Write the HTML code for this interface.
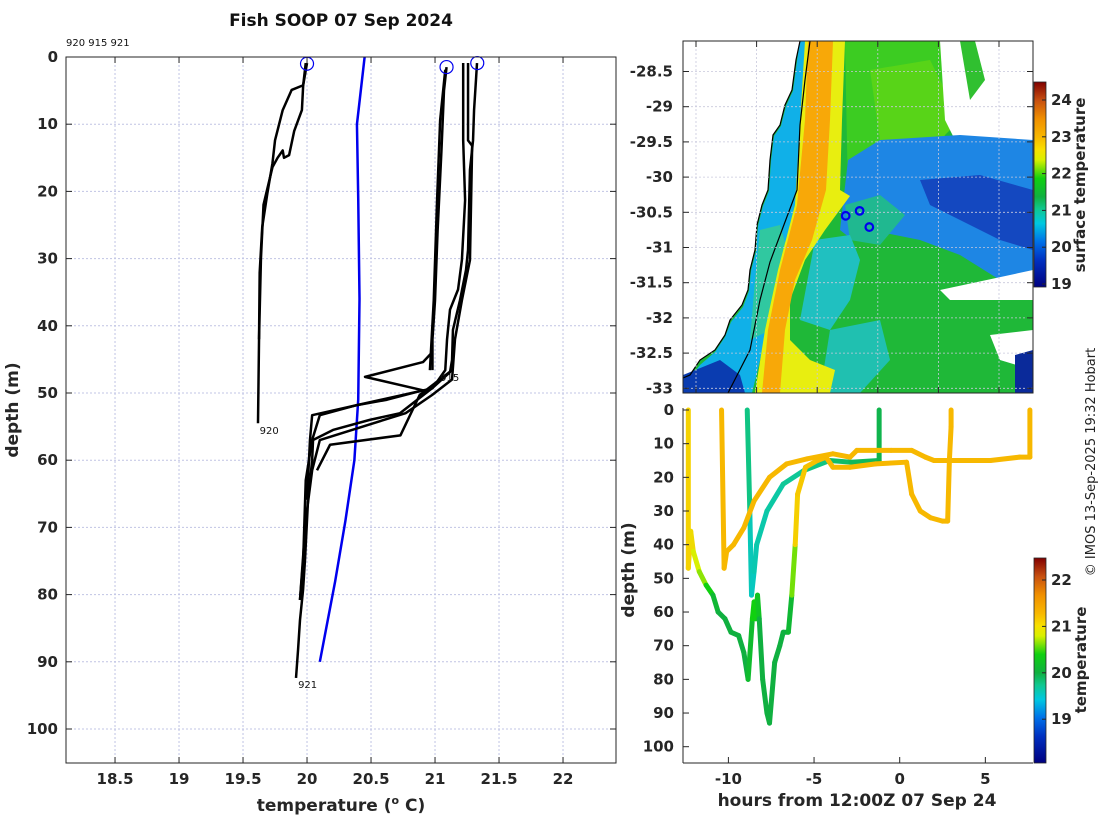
<!DOCTYPE html>
<html><head><meta charset="utf-8"><style>
html,body{margin:0;padding:0;background:#fff;}
svg{display:block;font-family:"DejaVu Sans","Liberation Sans",sans-serif;}
.tk{font-size:15px;font-weight:bold;fill:#262626;}
</style></head><body>
<svg id="s" width="1100" height="820" viewBox="0 0 1100 820">
<defs>
<clipPath id="cl"><rect x="66" y="57" width="550" height="706"/></clipPath>
<clipPath id="cm"><rect x="683" y="41" width="350" height="352"/></clipPath>
<clipPath id="cb"><rect x="683" y="405" width="350" height="358"/></clipPath>
<linearGradient id="jet" x1="0" y1="1" x2="0" y2="0">
<stop offset="0" stop-color="#000080"/><stop offset="0.13" stop-color="#0030c0"/><stop offset="0.22" stop-color="#0070e8"/><stop offset="0.31" stop-color="#00c8e0"/><stop offset="0.38" stop-color="#10c890"/><stop offset="0.44" stop-color="#10b040"/><stop offset="0.53" stop-color="#10d010"/><stop offset="0.62" stop-color="#d8f000"/><stop offset="0.67" stop-color="#f8e000"/><stop offset="0.73" stop-color="#f8b800"/><stop offset="0.82" stop-color="#f09000"/><stop offset="0.91" stop-color="#c85010"/><stop offset="1" stop-color="#800000"/>
</linearGradient>
</defs>
<text x="341" y="26" text-anchor="middle" font-size="17" font-weight="bold" fill="#111">Fish SOOP 07 Sep 2024</text>
<text x="66" y="46" font-size="10" fill="#111">920 915 921</text>
<g id="left"></g>
<g id="map"></g>
<g id="br"></g>
<text transform="translate(18,410) rotate(-90)" text-anchor="middle" font-size="17" font-weight="bold" fill="#262626">depth (m)</text>
<text x="341" y="811" text-anchor="middle" font-size="17" font-weight="bold" fill="#262626">temperature (<tspan font-size="11" dy="-7">o</tspan><tspan dy="7"> C)</tspan></text>
<text transform="translate(634,570) rotate(-90)" text-anchor="middle" font-size="17" font-weight="bold" fill="#262626">depth (m)</text>
<text x="857" y="806" text-anchor="middle" font-size="17" font-weight="bold" fill="#262626">hours from 12:00Z 07 Sep 24</text>
<text transform="translate(1085,185) rotate(-90)" text-anchor="middle" font-size="15" font-weight="bold" fill="#262626">surface temperature</text>
<text transform="translate(1086,660) rotate(-90)" text-anchor="middle" font-size="15" font-weight="bold" fill="#262626">temperature</text>
<text transform="translate(1095,462) rotate(-90)" text-anchor="middle" font-size="13" fill="#222">© IMOS 13-Sep-2025 19:32 Hobart</text>
</svg>
<script>
// ---- left profile plot data ----
const xTicks=[18.5,19,19.5,20,20.5,21,21.5,22];
const yTicks=[0,10,20,30,40,50,60,70,80,90,100];
const p920dT=[20.0,19.97,19.88,19.81,19.75,19.73,19.69,19.65,19.63,19.625,19.617];
const p920dD=[0.9,4.2,4.9,7.9,12.4,15.8,20.3,25.3,32.1,42.1,54.5];
const p920uT=[19.625,19.64,19.66,19.73,19.77,19.81,19.82,19.86,19.9,19.96,19.97,19.99];
const p920uD=[42,30,22,16.4,15,13.9,15,14.6,11,7.9,4.2,0.9];
const p915dT=[21.09,21.07,21.05,21.02,21.0,20.98,20.98];
const p915dD=[1.5,5,14,25.9,36.2,42,46.6];
const p915uT=[20.96,20.99,21.016,21.04,21.08];
const p915uD=[46.6,36.2,21.3,9.4,1.9];
const p915zT=[20.98,20.906,20.453,20.906,20.625,20.39,20.04,20.023,20.0];
const p915zD=[43.9,45.4,47.6,49.6,51,51.8,53.3,57,65.9];
const p921aT=[21.328,21.32,21.305,21.297,21.273,21.258,21.242,21.195,21.14,21.133,21.117,20.977,20.727,20.49,20.203,20.047,20.04,20.008,19.984,19.969,19.945,19.93,19.914];
const p921aD=[0.9,3.4,7.9,12.4,16.8,28.7,31.7,36.2,40.6,45.1,46.9,49.3,53,54,55.5,57,60,65.9,74.9,79.3,83.8,88.2,92.4];
const p921bT=[21.22,21.22,21.235,21.21,21.18,21.117,21.094,21.08,20.98,20.39,20.1,20.04,19.99,19.97,19.945];
const p921bD=[0.9,12.4,21.3,30.2,34.6,37.6,42,46.6,49.3,51.8,53.3,57,63,74.9,80.8];
const p921cT=[21.258,21.258,21.29,21.273,21.21,21.156,21.133,20.977,20.77,20.1,20.04,19.99,19.945];
const p921cD=[0.9,12.4,13.2,30.2,36.2,42,48,50.3,53,57,61.5,68.9,80.8];
const p921dT=[21.133,20.88,20.73,20.18,20.078];
const p921dD=[46.6,50.3,56.3,57.7,61.5];
const climT=[20.45,20.39,20.4,20.41,20.4,20.37,20.3,20.22,20.1];
const climD=[0,10,21,36,51,60,69,78,90];
const markT=[20.0,21.09,21.33];
const markD=[1,1.5,0.9];
const labelT=[19.63,21.04,19.93];
const labelD=[55.5,47.6,93.3];
const labelTxt=["920","915","921"];
// ---- map data ----
const latTicks=[-28.5,-29,-29.5,-30,-30.5,-31,-31.5,-32,-32.5,-33];
const lonTicks=[152,153,154,155,156,157];
const sstTicks=[19,20,21,22,23,24];
const fishLon=[154.47,154.7,154.86];
const fishLat=[-30.55,-30.48,-30.71];
// ---- bottom-right data ----
const hTicks=[-10,-5,0,5];
const dTicks=[0,10,20,30,40,50,60,70,80,90,100];
const cTicks=[19,20,21,22];
const aH=[-12.34,-12.34,-12.2,-12.05,-11.7,-11.3,-10.9,-10.6,-10.2,-9.85,-9.4,-9.1,-8.85,-8.6,-8.5,-8.4,-8.3,-8.2,-8.0,-7.75,-7.6,-7.3,-7.0,-6.8,-6.5,-6.3,-6.1,-5.96,-5.5,-4.8,-4.3,-3.9,-2.9,-1.4,0.4,0.7,1.2,1.8,2.5,2.8,2.9,3.0,3.0];
const aD=[0,47,36,42,48,52,55,60,62,66,67,72,80,62,57,62,55,62,80,90,93,75,70,66,66,55,40,25,17,15,14,17,17,16,15.5,25,30,32,33,33,15,5,0];
const aT=[21.0,21.0,21.0,20.9,20.7,20.6,20.2,20.0,20.0,20.0,20.0,20.0,20.0,20.3,20.5,20.3,20.5,20.0,20.0,20.0,20.0,20.0,20.0,20.0,20.0,20.2,21.0,21.05,21.1,21.15,21.2,21.2,21.2,21.2,21.2,21.2,21.2,21.2,21.2,21.2,21.2,21.2,21.2];
const bH=[-10.4,-10.25,-10.1,-9.7,-9.1,-8.5,-7.6,-6.6,-5.4,-3.9,-2.9,-2.5,-0.5,0.7,1.5,2.0,3.0,5.3,7.0,7.6,7.6];
const bD=[0,47,42,40,35,27,20,16,14.5,13,14,12,12,12,14,15,15,15,14,14,0];
const bT=[21.2,21.2,21.2,21.2,21.2,21.2,21.2,21.2,21.2,21.2,21.2,21.2,21.2,21.2,21.2,21.2,21.2,21.2,21.2,21.2,21.2];
const cH=[-8.9,-8.75,-8.65,-8.5,-8.35,-7.75,-6.8,-5.6,-4.1,-2.85,-1.2,-1.2];
const cD=[0,30,55,48,40,30,22,18,15,15.5,15,0];
const cT=[19.9,19.6,19.5,19.55,19.6,19.6,19.65,19.7,19.8,19.9,19.9,20.0];

const NS="http://www.w3.org/2000/svg";
function mk(tag,attrs,parent,name){const e=document.createElementNS(NS,tag);for(const k in attrs)e.setAttribute(k,attrs[k]);


parent.appendChild(e);return e;}
// left axes
const L=document.getElementById('left');
const lx=t=>66+(t-18.117)*128, ly=d=>57+d*6.72;
mk('rect',{x:66,y:57,width:550,height:706,fill:'#fff'},L,'plot-area');
xTicks.forEach(t=>{mk('line',{x1:lx(t),x2:lx(t),y1:57,y2:763,stroke:'#c0c4e4','stroke-dasharray':'2,2','stroke-width':1},L,'x-gridline');});
yTicks.forEach(t=>{mk('line',{x1:66,x2:616,y1:ly(t),y2:ly(t),stroke:'#c0c4e4','stroke-dasharray':'2,2','stroke-width':1},L,'y-gridline');});
const gl=mk('g',{'clip-path':'url(#cl)'},L,'profiles');
function pl(T,D,col,w,name){mk('polyline',{points:T.map((t,i)=>lx(t)+','+ly(D[i])).join(' '),fill:'none',stroke:col,'stroke-width':w,'stroke-linejoin':'round'},gl,name);}
pl(climT,climD,'#0000ee',2.5,'climatology-line');
[[p920dT,p920dD,'profile-920-down'],[p920uT,p920uD,'profile-920-up'],[p915dT,p915dD,'profile-915-down'],[p915uT,p915uD,'profile-915-up'],[p915zT,p915zD,'profile-915-excursion'],[p921aT,p921aD,'profile-921-a'],[p921bT,p921bD,'profile-921-b'],[p921cT,p921cD,'profile-921-c'],[p921dT,p921dD,'profile-921-d']].forEach(a=>pl(a[0],a[1],'#000',2.5,a[2]));
markT.forEach((t,i)=>{mk('circle',{cx:lx(t),cy:ly(markD[i]),r:6.5,fill:'none',stroke:'#0000ee','stroke-width':1.2},L,'surface-marker');});
labelT.forEach((t,i)=>{const e=mk('text',{x:lx(t),y:ly(labelD[i])+4,'font-size':10,fill:'#111'},L,'profile-label');e.textContent=labelTxt[i];});
mk('rect',{x:66,y:57,width:550,height:706,fill:'none',stroke:'#262626','stroke-width':1},L,'axes-box');
xTicks.forEach(t=>{mk('line',{x1:lx(t),x2:lx(t),y1:57,y2:63,stroke:'#262626'},L,'x-tick');mk('line',{x1:lx(t),x2:lx(t),y1:763,y2:757,stroke:'#262626'},L,'x-tick');
const e=mk('text',{x:lx(t),y:784,'text-anchor':'middle',class:'tk'},L,'x-tick-label');e.textContent=t;});
yTicks.forEach(t=>{mk('line',{x1:66,x2:72,y1:ly(t),y2:ly(t),stroke:'#262626'},L,'y-tick');mk('line',{x1:616,x2:610,y1:ly(t),y2:ly(t),stroke:'#262626'},L,'y-tick');
const e=mk('text',{x:58,y:ly(t)+5,'text-anchor':'end',class:'tk'},L,'y-tick-label');e.textContent=t;});

// map
const M=document.getElementById('map');
const mx=lon=>696+(lon-152)*60.6, my=lat=>71.5+(-28.5-lat)*70.4;
const gm=mk('g',{'clip-path':'url(#cm)'},M,'sst-field');
function poly(pts,fill,name){mk('polygon',{points:pts,fill:fill},gm,name);}
poly('683,41 1033,41 1033,393 683,393','#1fb838','ocean-green');
poly('840,41 945,41 945,140 900,150 860,170 848,195 845,41','#3ccc22','north-green');
poly('870,70 930,60 960,120 930,150 880,140','#58d418','north-green-patch');
poly('940,41 1033,41 1033,140 960,150 945,120','#ffffff','cloud-ne');
poly('960,41 975,41 985,80 970,100','#30c030','cloud-speckle');
poly('848,160 880,140 960,135 1033,140 1033,290 1000,280 960,255 920,240 880,232 850,238 840,230','#1e86e4','blue-eddy');
poly('920,180 980,175 1033,190 1033,250 1000,240 960,220 930,205','#1448c0','dark-blue-core');
poly('845,205 880,195 905,215 880,245 850,240','#20b890','eddy-teal');
poly('940,290 1033,270 1033,300 980,300 950,300','#ffffff','cloud-east');
poly('990,335 1033,330 1033,370 1000,360','#ffffff','cloud-se');
poly('1015,355 1033,350 1033,393 1015,393','#0a2a9a','dark-blue-se');
poly('815,240 850,235 860,260 850,300 830,330 800,320','#20c0c0','teal-patch');
poly('830,330 880,320 890,360 860,393 820,393','#20c0b0','teal-patch-south');
poly('683,41 800,41 796,60 792,90 785,105 780,125 773,135 770,160 768,190 762,205 757,225 755,250 750,270 748,290 742,305 730,320 725,335 715,350 700,360 690,375 683,378','#ffffff','land');
poly('800,41 812,41 806,120 800,200 785,260 770,320 752,393 690,393 690,378 700,365 715,352 725,337 731,322 743,307 749,291 751,271 756,251 758,226 763,206 769,191 771,161 774,136 781,126 786,106 793,91 797,61','#10b0e8','coastal-blue');
poly('760,230 780,225 790,260 770,330 750,340 755,280','#30c8a0','coastal-teal');
poly('683,375 720,360 740,375 745,393 683,393','#0a3cb0','coastal-dark-blue');
poly('805,41 845,41 842,120 840,190 850,196 825,230 805,260 790,300 790,340 810,360 835,370 830,393 755,393 765,330 778,270 795,205','#e8ee10','eac-yellow');
poly('808,41 833,41 830,120 826,190 812,240 795,280 785,330 780,393 762,393 768,330 780,270 797,205 805,120','#f8a808','eac-orange');
mk('polyline',{points:'810,41 805,80 800,125 797,190 782,230 770,262 760,300 750,350 728,393',fill:'none',stroke:'#000','stroke-width':1.2},gm,'shelf-contour');
mk('polyline',{points:'800,41 796,60 792,90 785,105 780,125 773,135 770,160 768,190 762,205 757,225 755,250 750,270 748,290 742,305 730,320 725,335 715,350 700,360 690,375 683,378',fill:'none',stroke:'#000','stroke-width':1.2},gm,'coastline');
latTicks.forEach(t=>{mk('line',{x1:683,x2:1033,y1:my(t),y2:my(t),stroke:'#c8c8dc','stroke-dasharray':'2,2','stroke-width':0.8},gm,'lat-gridline');});
lonTicks.forEach(t=>{mk('line',{x1:mx(t),x2:mx(t),y1:41,y2:393,stroke:'#c8c8dc','stroke-dasharray':'2,2','stroke-width':0.8},gm,'lon-gridline');});
fishLon.forEach((l,i)=>{mk('circle',{cx:mx(l),cy:my(fishLat[i]),r:3.8,fill:'none',stroke:'#0000ee','stroke-width':2.2},M,'fish-location');});
mk('rect',{x:683,y:41,width:350,height:352,fill:'none',stroke:'#262626'},M,'map-box');
latTicks.forEach(t=>{mk('line',{x1:683,x2:689,y1:my(t),y2:my(t),stroke:'#262626'},M,'lat-tick');mk('line',{x1:1033,x2:1027,y1:my(t),y2:my(t),stroke:'#262626'},M,'lat-tick');
const e=mk('text',{x:673,y:my(t)+5,'text-anchor':'end',class:'tk'},M,'lat-tick-label');e.textContent=t;});
lonTicks.forEach(t=>{mk('line',{x1:mx(t),x2:mx(t),y1:393,y2:387,stroke:'#262626'},M,'lon-tick');mk('line',{x1:mx(t),x2:mx(t),y1:41,y2:47,stroke:'#262626'},M,'lon-tick');
const e=mk('text',{x:mx(t),y:421,'text-anchor':'middle',class:'tk'},M,'lon-tick-label');e.textContent=t;});
const sy=v=>100+(24-v)*36.8;
mk('rect',{x:1034,y:82,width:12,height:205,fill:'url(#jet)'},M,'sst-colorbar');
mk('rect',{x:1034,y:82,width:12,height:205,fill:'none',stroke:'#262626','stroke-width':0.8},M,'sst-colorbar-box');
sstTicks.forEach(t=>{mk('line',{x1:1046,x2:1042,y1:sy(t),y2:sy(t),stroke:'#262626'},M,'sst-tick');
const e=mk('text',{x:1051,y:sy(t)+5,class:'tk','font-size':13},M,'sst-tick-label');e.textContent=t;});

// bottom right
const B=document.getElementById('br');
const bx=h=>899.7+h*17.13, by=d=>410+d*3.367;
mk('rect',{x:676,y:404,width:357,height:359,fill:'#fff'},B,'br-background');
const gb=mk('g',{'clip-path':'url(#cb)'},B,'tracks');
const stops=[[18.0,[0,0,128]],[18.6,[0,48,192]],[19.0,[0,112,232]],[19.4,[0,200,224]],[19.7,[16,200,144]],[20.0,[16,176,64]],[20.4,[16,208,16]],[20.8,[216,240,0]],[21.0,[245,210,0]],[21.2,[247,184,0]],[21.7,[240,144,0]],[22.1,[200,80,16]],[22.5,[128,0,0]]];
function cmap(v){for(let i=0;i<stops.length-1;i++){const a=stops[i],b=stops[i+1];if(v<=b[0]){const f=Math.max(0,(v-a[0])/(b[0]-a[0]));return 'rgb('+a[1].map((c,j)=>Math.round(c+(b[1][j]-c)*f)).join(',')+')';}}return 'rgb(128,0,0)';}
function track(H,D,T,name){for(let i=0;i<H.length-1;i++){mk('line',{x1:bx(H[i]),y1:by(D[i]),x2:bx(H[i+1]),y2:by(D[i+1]),stroke:cmap((T[i]+T[i+1])/2),'stroke-width':5,'stroke-linecap':'round'},gb,name);}}
track(cH,cD,cT,'track-teal');
track(aH,aD,aT,'track-long');
track(bH,bD,bT,'track-orange');
mk('line',{x1:683,x2:683,y1:408,y2:763,stroke:'#262626'},B,'br-y-axis');
mk('line',{x1:683,x2:1033,y1:763,y2:763,stroke:'#262626'},B,'br-x-axis');
hTicks.forEach(t=>{mk('line',{x1:bx(t),x2:bx(t),y1:763,y2:757,stroke:'#262626'},B,'br-x-tick');
const e=mk('text',{x:bx(t),y:784,'text-anchor':'middle',class:'tk'},B,'br-x-tick-label');e.textContent=t;});
dTicks.forEach(t=>{mk('line',{x1:683,x2:689,y1:by(t),y2:by(t),stroke:'#262626'},B,'br-y-tick');
const e=mk('text',{x:674,y:by(t)+5,'text-anchor':'end',class:'tk'},B,'br-y-tick-label');e.textContent=t;});
const cy=v=>580+(22-v)*46.4;
mk('rect',{x:1034,y:558,width:12,height:205,fill:'url(#jet)'},B,'temp-colorbar');
mk('rect',{x:1034,y:558,width:12,height:205,fill:'none',stroke:'#262626','stroke-width':0.8},B,'temp-colorbar-box');
cTicks.forEach(t=>{mk('line',{x1:1046,x2:1042,y1:cy(t),y2:cy(t),stroke:'#262626'},B,'temp-tick');
const e=mk('text',{x:1051,y:cy(t)+5,class:'tk','font-size':13},B,'temp-tick-label');e.textContent=t;});
</script>
</body></html>
